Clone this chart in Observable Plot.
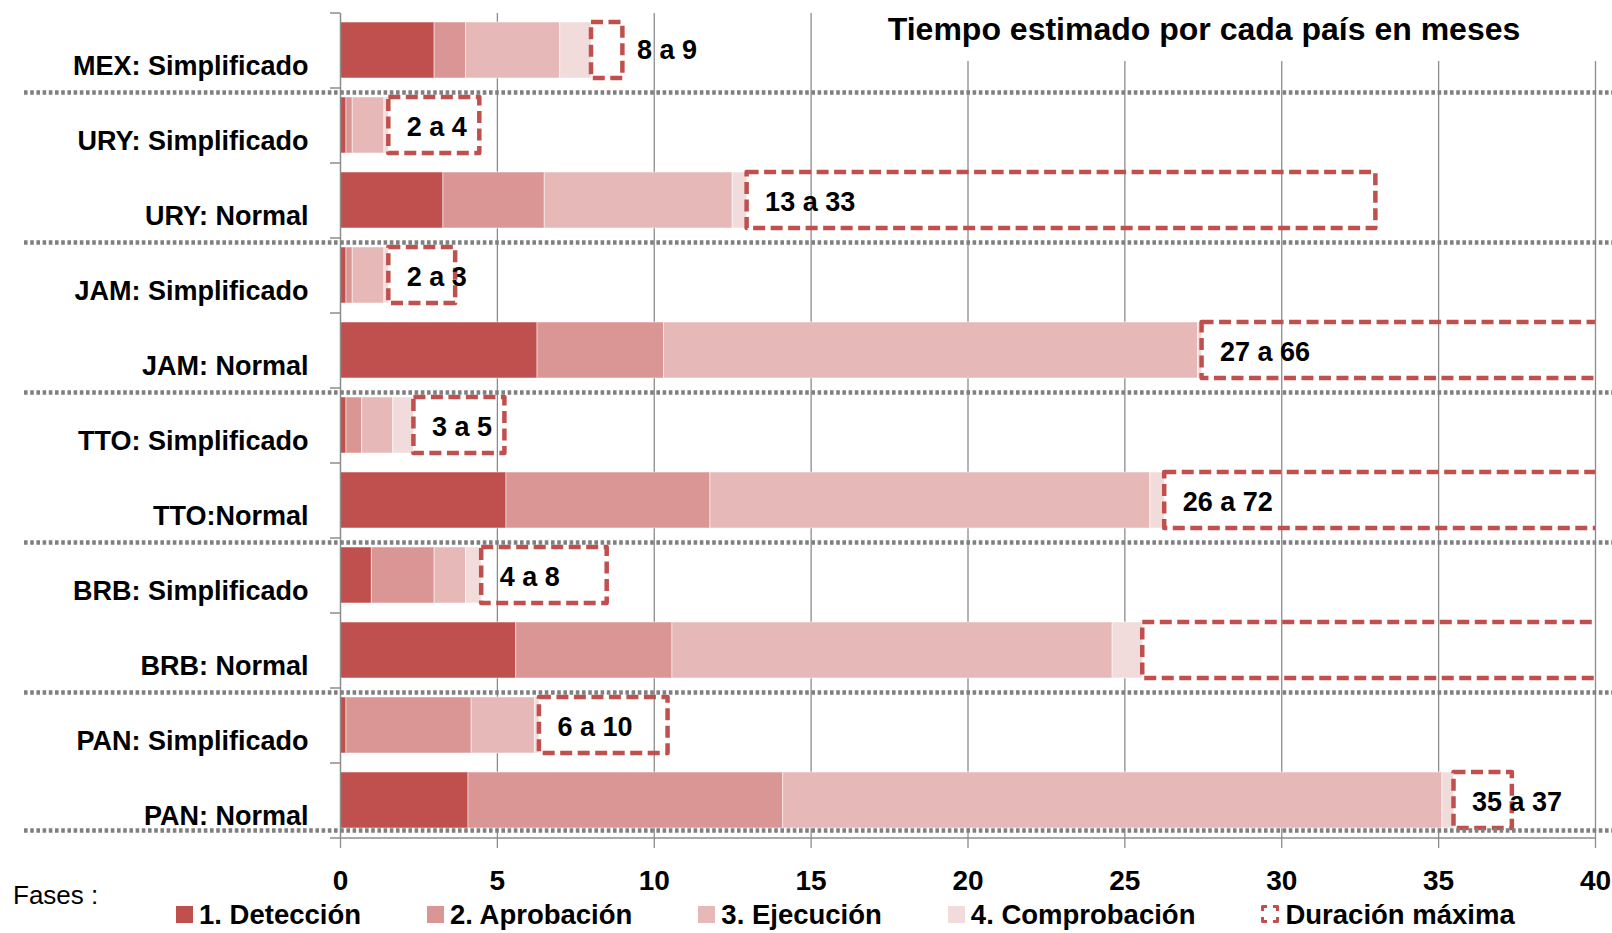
<!DOCTYPE html>
<html>
<head>
<meta charset="utf-8">
<script src="https://cdn.jsdelivr.net/npm/d3@7"></script>
<script src="https://cdn.jsdelivr.net/npm/@observablehq/plot@0.6"></script>
<style>
  body { margin: 0; background: #fff; font-family: "Liberation Sans", Arial, sans-serif; }
  #wrap { position: relative; width: 1612px; height: 933px; overflow: hidden; background: #fff; }
  #title { position: absolute; left: 850px; top: 0px; width: 762px; height: 61px; background: #fff; }
  #title span { position: absolute; left: 354px; top: 13px; transform: translateX(-50%); white-space: nowrap;
    font-weight: bold; font-size: 32px; line-height: 32px; color: #000; }
  #fases { position: absolute; left: 13px; top: 882px; font-size: 26px; line-height: 26px; color: #000; }
  #legend { position: absolute; left: 176px; top: 901px; display: flex; gap: 66px; font-weight: bold;
    font-size: 27.5px; line-height: 27.5px; color: #000; white-space: nowrap; }
  .item { display: flex; align-items: flex-start; gap: 6px; }
  .sw { width: 17px; height: 17px; margin-top: 5px; flex: none; box-sizing: border-box; }
</style>
</head>
<body>
<div id="wrap"></div>
<script>
// ---- Data ----
const categories = [
  "MEX: Simplificado", "URY: Simplificado", "URY: Normal", "JAM: Simplificado", "JAM: Normal",
  "TTO: Simplificado", "TTO:Normal", "BRB: Simplificado", "BRB: Normal", "PAN: Simplificado", "PAN: Normal"
];
const deteccion    = [3, 0.19, 3.28, 0.19, 6.28, 0.19, 5.29, 1, 5.6, 0.19, 4.08];
const aprobacion   = [1, 0.2, 3.23, 0.2, 4.03, 0.5, 6.5, 2, 4.98, 3.99, 10.03];
const ejecucion    = [3, 1.01, 5.99, 1.01, 17.02, 0.99, 14.02, 1, 14.03, 2.02, 21.01];
const comprobacion = [1, 0.14, 0.46, 0.14, 0.13, 0.66, 0.46, 0.5, 0.96, 0.14, 0.37];
const duracionMaxima = [9, 4.44, 33, 3.67, 66, 5.24, 72, 8.5, 50, 10.44, 37.35];
const etiquetas = ["8 a 9", "2 a 4", "13 a 33", "2 a 3", "27 a 66", "3 a 5", "26 a 72", "4 a 8", "", "6 a 10", "35 a 37"];
const grupoFin = ["MEX: Simplificado", "URY: Normal", "JAM: Normal", "TTO:Normal", "BRB: Normal"];
const phases = ["1. Detección", "2. Aprobación", "3. Ejecución", "4. Comprobación"];
const maxLabel = "Duración máxima";
const xTicks = [0, 5, 10, 15, 20, 25, 30, 35, 40];
const titulo = "Tiempo estimado por cada país en meses";

// ---- Styles ----
const phaseColors = ["#C0504D", "#D99694", "#E6B9B8", "#F2DCDB"];
const red = "#C0504D";
const gray = "#8c8c8c";
const dotGray = "#808080";
const font = "'Liberation Sans', Arial, sans-serif";

const W = 1612, H = 905;
const mTop = 13, mBottom = H - 838, mLeft = 340, mRight = 17;
const step = (H - mTop - mBottom) / categories.length;

const seriesValues = [deteccion, aprobacion, ejecucion, comprobacion];
const rows = categories.flatMap((c, i) => phases.map((p, j) => ({cat: c, phase: p, value: seriesValues[j][i]})));
const totals = categories.map((c, i) => d3.sum(seriesValues, s => s[i]));
const boxes = categories.map((c, i) => ({cat: c, start: totals[i], end: duracionMaxima[i], label: etiquetas[i]}));
const inside = boxes.filter(d => d.label && d.end - d.start >= 1.5);
const outside = boxes.filter(d => d.label && d.end - d.start < 1.5);

const sepStyle = {stroke: dotGray, strokeWidth: 4.5, strokeDasharray: "3.6,2.6",
  insetLeft: -(mLeft - 24), insetRight: -mRight};

const chart = Plot.plot({
  width: W, height: H,
  marginTop: mTop, marginBottom: mBottom, marginLeft: mLeft, marginRight: mRight,
  style: {fontFamily: font, background: "white", overflow: "visible"},
  x: {domain: [0, 40], label: null},
  y: {domain: categories, paddingInner: 0.25, paddingOuter: 0.125, label: null},
  color: {domain: phases, range: phaseColors},
  marks: [
    Plot.gridX(xTicks.filter(t => t > 0), {stroke: gray, strokeOpacity: 1, strokeWidth: 1.3}),
    Plot.barX(rows, Plot.stackX({y: "cat", x: "value", fill: "phase", stroke: "#fff", strokeWidth: 1, strokeOpacity: 0.5})),
    Plot.barX(boxes, {y: "cat", x1: "start", x2: "end", fill: "none", stroke: red, strokeWidth: 4.5,
      strokeDasharray: "12,5.5", strokeLinejoin: "round", clip: true}),
    Plot.ruleX([0], {stroke: gray, strokeWidth: 1.5}),
    Plot.ruleY(categories, {y: d => d, x1: 0, x2: 0, dy: -step / 2, insetLeft: -10, stroke: gray, strokeWidth: 1.5}),
    Plot.ruleY(categories.slice(-1), {y: d => d, dy: step / 2, insetLeft: -10, stroke: gray, strokeWidth: 1.5}),
    Plot.axisX({ticks: xTicks, tickSize: 10, tickPadding: 22, fontSize: 28, fontWeight: "bold",
      stroke: gray, strokeWidth: 1.3, fill: "black", label: null}),
    Plot.axisY({tickSize: 0, tickPadding: 32, dy: 16, fontSize: 27, fontWeight: "bold", fill: "black", label: null}),
    Plot.ruleY(grupoFin, {y: d => d, dy: step * 0.56, ...sepStyle}),
    Plot.ruleY(categories.slice(-1), {y: d => d, dy: step * 0.4, ...sepStyle}),
    Plot.text(inside, {y: "cat", x: "start", text: "label", textAnchor: "start", dx: 18, dy: 2,
      fontSize: 27, fontWeight: "bold", fill: "black"}),
    Plot.text(outside, {y: "cat", x: "end", text: "label", textAnchor: "start", dx: 14, dy: 0,
      fontSize: 27, fontWeight: "bold", fill: "black"})
  ]
});

const wrap = document.getElementById("wrap");
wrap.appendChild(chart);

const t = document.createElement("div");
t.id = "title";
t.innerHTML = `<span>${titulo}</span>`;
wrap.appendChild(t);

const f = document.createElement("div");
f.id = "fases";
f.textContent = "Fases :";
wrap.appendChild(f);

const lg = document.createElement("div");
lg.id = "legend";
phases.forEach((p, i) => {
  const it = document.createElement("div");
  it.className = "item";
  it.innerHTML = `<div class="sw" style="background:${phaseColors[i]}"></div><span>${p}</span>`;
  lg.appendChild(it);
});
const it = document.createElement("div");
it.className = "item";
it.innerHTML = `<div class="sw" style="border:3px dashed ${red};border-radius:2px;width:18px;height:18px;margin-top:4px"></div><span>${maxLabel}</span>`;
lg.appendChild(it);
wrap.appendChild(lg);
</script>
</body>
</html>
